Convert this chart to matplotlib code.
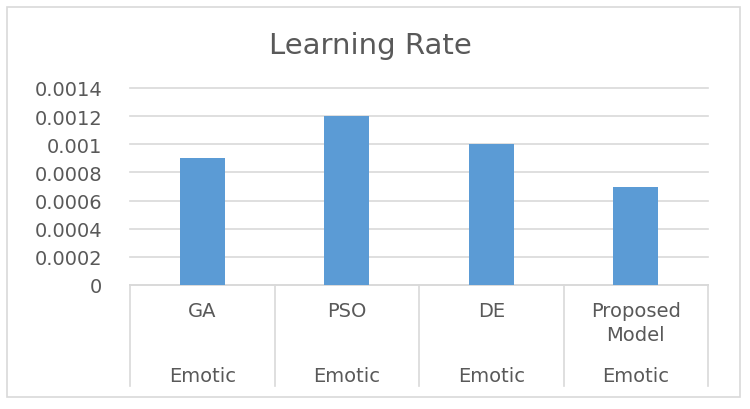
import matplotlib.pyplot as plt
from matplotlib.patches import Rectangle

# data
methods = ["GA", "PSO", "DE", "Proposed\nModel"]
dataset = ["Emotic", "Emotic", "Emotic", "Emotic"]
learning_rate = [0.0009, 0.0012, 0.001, 0.0007]
yticks = [0, 0.0002, 0.0004, 0.0006, 0.0008, 0.001, 0.0012, 0.0014]
ytick_labels = ["0", "0.0002", "0.0004", "0.0006", "0.0008", "0.001", "0.0012", "0.0014"]

bar_color = "#5B9BD5"
grid_color = "#D9D9D9"
text_color = "#595959"

fig = plt.figure(figsize=(7.5, 4.1), dpi=100)
# outer chart border
fig.patches.append(Rectangle((7 / 750, 12 / 410), 733 / 750, 390 / 410,
                             transform=fig.transFigure, fill=False,
                             edgecolor=grid_color, linewidth=1.2))

ax = fig.add_axes([130 / 750, 124 / 410, 578 / 750, 197 / 410])
x = list(range(len(methods)))
ax.bar(x, learning_rate, width=0.31, color=bar_color, zorder=3)
ax.set_xlim(-0.5, len(methods) - 0.5)
ax.set_ylim(0, 0.0014)
ax.set_yticks(yticks)
ax.set_yticklabels(ytick_labels, fontsize=14, color=text_color)
ax.tick_params(axis="y", length=0, pad=20)
ax.set_xticks([])
ax.grid(axis="y", color=grid_color, linewidth=1.2, zorder=0)
for gl in ax.get_ygridlines():
    gl.set_clip_on(False)
for s in ["top", "right", "left"]:
    ax.spines[s].set_visible(False)
ax.spines["bottom"].set_color(grid_color)
ax.spines["bottom"].set_linewidth(1.2)

# multi-level category axis
for b in [i - 0.5 for i in range(len(methods) + 1)]:
    ax.plot([b, b], [0, -0.513], transform=ax.get_xaxis_transform(),
            color=grid_color, linewidth=1.2, clip_on=False)
for i in x:
    ax.text(i, -0.08, methods[i], transform=ax.get_xaxis_transform(),
            ha="center", va="top", fontsize=14, color=text_color,
            linespacing=1.35)
    ax.text(i, -0.457, dataset[i], transform=ax.get_xaxis_transform(),
            ha="center", va="center", fontsize=14, color=text_color)

fig.text(370 / 750, 364 / 410, "Learning Rate", ha="center", va="center",
         fontsize=21, color=text_color)

fig.savefig("out.png", dpi=100)
